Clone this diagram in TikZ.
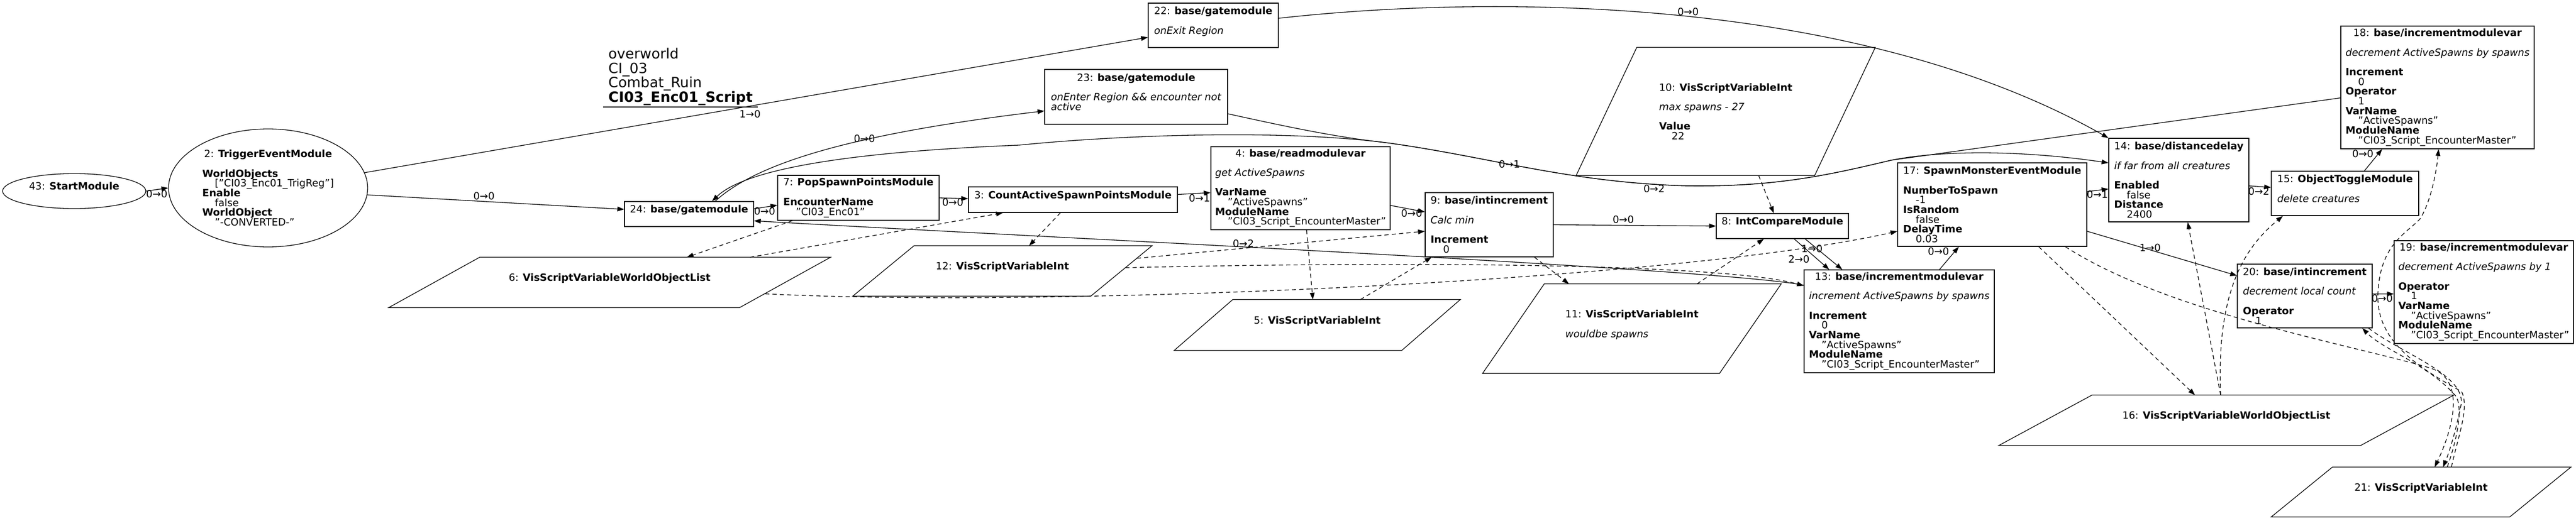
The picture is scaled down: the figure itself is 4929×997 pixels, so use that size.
\documentclass[tikz,border=0pt]{standalone}
\usepackage{fontspec}
\setmainfont{DejaVu Sans}
\usetikzlibrary{arrows.meta,calc,shapes.geometric}

\newcommand{\nodefont}{\fontsize{19.2bp}{18.7bp}\selectfont\lineskiplimit=-100bp\relax}
\newcommand{\headfont}{\fontsize{27bp}{27.5bp}\selectfont\lineskiplimit=-100bp\relax}
\newcommand{\mtitle}[2]{\hfil#1: \textbf{#2}}
\newcommand{\mprop}[2]{\textbf{#1}\\\hspace*{24bp}#2}
\newcommand{\mnote}[1]{\textit{#1}}
\newcommand{\mtext}[1]{\vbox{\let\\\cr\tabskip=0pt\halign{##\hfil\cr#1\crcr}}}
\newcommand{\varshape}[2]{\draw[line width=1.3bp] ($(#1.north west)+(#2,0)$) -- (#1.north east) -- ($(#1.south east)+(-#2,0)$) -- (#1.south west) -- cycle;}

\begin{document}
\begin{tikzpicture}[x=1bp, y=-1bp,
        every node/.style={font=\nodefont, inner sep=0pt},
        mod/.style={draw, rectangle, line width=1.3bp},
        startnode/.style={draw, ellipse, line width=1.3bp},
        headnode/.style={font=\headfont, inner xsep=10bp, inner ysep=3bp},
        lbl/.style={inner sep=0pt},
        link/.style={line width=1.3bp, -{Triangle[length=13bp,width=9bp]}},
        varlink/.style={link, dash pattern=on 8bp off 6bp}]
            \fill[white] (0,0) rectangle (4929,997);
            \useasboundingbox (0,0) rectangle (4929,997);

            \node[headnode, anchor=south west] (title) at (1154,205) {\mtext{overworld\\CI\_03\\Combat\_Ruin\\\textbf{CI03\_Enc01\_Script}}};
            \draw[line width=1.3bp] (title.south west) to (title.south east);

            \node[startnode, minimum width=274bp, minimum height=67bp] (n43) at (142,366) {\mtext{\mtitle{43}{StartModule}\\ {}}};
            \node[startnode, minimum width=381bp, minimum height=226bp] (n2) at (513,360) {\mtext{\mtitle{2}{TriggerEventModule}\\ \\ \mprop{WorldObjects}{["CI03\_Enc01\_TrigReg"]}\\ \mprop{Enable}{false}\\ \mprop{WorldObject}{"-CONVERTED-"}}};
            \node[mod, minimum width=247bp, minimum height=48bp] (n24) at (1318.5,410) {\mtext{\mtitle{24}{base/gatemodule}\\ {}}};
            \node[mod, minimum width=309bp, minimum height=86bp] (n7) at (1642.5,379) {\mtext{\mtitle{7}{PopSpawnPointsModule}\\ \\ \mprop{EncounterName}{"CI03\_Enc01"}}};
            \node[mod, minimum width=400bp, minimum height=49bp] (n3) at (2053,382.5) {\mtext{\mtitle{3}{CountActiveSpawnPointsModule}\\ {}}};
            \node[mod, minimum width=343bp, minimum height=159bp] (n4) at (2488.5,360.5) {\mtext{\mtitle{4}{base/readmodulevar}\\ \\ \mnote{get ActiveSpawns}\\ \\ \mprop{VarName}{"ActiveSpawns"}\\ \mprop{ModuleName}{"CI03\_Script\_EncounterMaster"}}};
            \node[mod, minimum width=245bp, minimum height=123bp] (n9) at (2849.5,430.5) {\mtext{\mtitle{9}{base/intincrement}\\ \\ \mnote{Calc min}\\ \\ \mprop{Increment}{0}}};
            \node[mod, minimum width=253bp, minimum height=48bp] (n8) at (3410.5,433) {\mtext{\mtitle{8}{IntCompareModule}\\ {}}};
            \node[mod, minimum width=364bp, minimum height=197bp] (n13) at (3634,615.5) {\mtext{\mtitle{13}{base/incrementmodulevar}\\ \\ \mnote{increment ActiveSpawns by spawns}\\ \\ \mprop{Increment}{0}\\ \mprop{VarName}{"ActiveSpawns"}\\ \mprop{ModuleName}{"CI03\_Script\_EncounterMaster"}}};
            \node[mod, minimum width=362bp, minimum height=160bp] (n17) at (3812,392) {\mtext{\mtitle{17}{SpawnMonsterEventModule}\\ \\ \mprop{NumberToSpawn}{-1}\\ \mprop{IsRandom}{false}\\ \mprop{DelayTime}{0.03}}};
            \node[mod, minimum width=268bp, minimum height=160bp] (n14) at (4169,345) {\mtext{\mtitle{14}{base/distancedelay}\\ \\ \mnote{if far from all creatures}\\ \\ \mprop{Enabled}{false}\\ \mprop{Distance}{2400}}};
            \node[mod, minimum width=282bp, minimum height=85bp] (n15) at (4487,370.5) {\mtext{\mtitle{15}{ObjectToggleModule}\\ \\ \mnote{delete creatures}\\ {}}};
            \node[mod, minimum width=370bp, minimum height=235bp] (n18) at (4664,167.5) {\mtext{\mtitle{18}{base/incrementmodulevar}\\ \\ \mnote{decrement ActiveSpawns by spawns}\\ \\ \mprop{Increment}{0}\\ \mprop{Operator}{1}\\ \mprop{VarName}{"ActiveSpawns"}\\ \mprop{ModuleName}{"CI03\_Script\_EncounterMaster"}}};
            \node[mod, minimum width=258bp, minimum height=122bp] (n20) at (4410,567) {\mtext{\mtitle{20}{base/intincrement}\\ \\ \mnote{decrement local count}\\ \\ \mprop{Operator}{1}}};
            \node[mod, minimum width=343bp, minimum height=197bp] (n19) at (4752.5,559.5) {\mtext{\mtitle{19}{base/incrementmodulevar}\\ \\ \mnote{decrement ActiveSpawns by 1}\\ \\ \mprop{Operator}{1}\\ \mprop{VarName}{"ActiveSpawns"}\\ \mprop{ModuleName}{"CI03\_Script\_EncounterMaster"}}};
            \node[mod, minimum width=249bp, minimum height=85bp] (n22) at (2321.5,48.5) {\mtext{\mtitle{22}{base/gatemodule}\\ \\ \mnote{onExit Region}\\ {}}};
            \node[mod, minimum width=350bp, minimum height=105bp] (n23) at (2174,185.5) {\mtext{\mtitle{23}{base/gatemodule}\\ \\ \mnote{onEnter Region \&\& encounter not}\\ \mnote{active}\\ {}}};

            \node[minimum width=845bp, minimum height=96bp] (v6) at (1166.5,541) {\mtext{\mtitle{6}{VisScriptVariableWorldObjectList}\\ {}}};
            \node[minimum width=572bp, minimum height=96bp] (v12) at (1918,519) {\mtext{\mtitle{12}{VisScriptVariableInt}\\ {}}};
            \node[minimum width=547bp, minimum height=97bp] (v5) at (2520.5,622.5) {\mtext{\mtitle{5}{VisScriptVariableInt}\\ {}}};
            \node[minimum width=571bp, minimum height=171bp] (v11) at (3122.5,629.5) {\mtext{\mtitle{11}{VisScriptVariableInt}\\ \\ \mnote{wouldbe spawns}\\ {}}};
            \node[minimum width=572bp, minimum height=245bp] (v10) at (3302,213.5) {\mtext{\mtitle{10}{VisScriptVariableInt}\\ \\ \mnote{max spawns - 27}\\ \\ \mprop{Value}{22}}};
            \node[minimum width=870bp, minimum height=96bp] (v16) at (4260,805) {\mtext{\mtitle{16}{VisScriptVariableWorldObjectList}\\ {}}};
            \node[minimum width=573bp, minimum height=95bp] (v21) at (4632.5,942.5) {\mtext{\mtitle{21}{VisScriptVariableInt}\\ {}}};
            \varshape{v6}{174}
            \varshape{v12}{117}
            \varshape{v5}{112}
            \varshape{v11}{118}
            \varshape{v10}{116}
            \varshape{v16}{178}
            \varshape{v21}{117}

            \draw[link] (n43.east) to (n2.west);
            \draw[link] (n2.356) to ($(n24.west)+(0,-9)$);
            \draw[link] (n2.9) to ($(n22.west)+(0,23)$);
            \draw[link] ($(n24.north)+(50,0)$) .. controls (1440,320) and (1600,260) .. ($(n23.west)+(0,27)$);
            \draw[link] ($(n24.east)+(0,-10)$) to ($(n7.west)+(0,14)$);
            \draw[link] (n7.east) to ($(n3.west)+(0,-2)$);
            \draw[link] ($(n3.east)+(0,-10)$) to ($(n4.west)+(0,8.5)$);
            \draw[link] ($(n4.east)+(0,33)$) to ($(n9.west)+(0,-24.5)$);
            \draw[link] (n9.east) to (n8.west);
            \draw[link] ($(n8.south)+(43.5,0)$) to ($(n13.north)+(-109,0)$);
            \draw[link] ($(n8.south)+(22.5,0)$) to ($(n13.north)+(-134,0)$);
            \draw[link] ($(n13.north)+(77,0)$) to ($(n17.south)+(-64,0)$);
            \draw[link] ($(n13.north west)+(0,30)$) .. controls (3300,515) and (2000,455) .. ($(n24.east)+(0,13)$);
            \draw[link] ($(n18.west)+(0,20)$) -- (3618,307) .. controls (3500,335) and (3400,358) .. (3230,356) .. controls (3000,350) and (2850,300) .. (2650,273) .. controls (2450,248) and (2150,258) .. (1950,278) .. controls (1650,290) and (1430,320) .. ($(n24.north)+(44,0)$);
            \draw[link] ($(n23.east)+(0,32.5)$) .. controls (2450,240) and (2550,262) .. (2650,273) .. controls (2850,300) and (3000,350) .. (3230,356) .. controls (3400,358) and (3500,335) .. (3618,307) .. controls (3700,290) and (3850,285) .. ($(n14.west)+(0,-33)$);
            \draw[link] ($(n22.east)+(0,-13.5)$) .. controls (2850,-10) and (3550,-10) .. (n14.north west);
            \draw[link] ($(n17.east)+(0,-25)$) to ($(n14.west)+(0,17)$);
            \draw[link] ($(n14.east)+(0,11)$) to ($(n15.west)+(0,-11.5)$);
            \draw[link] ($(n15.north)+(37,0)$) to ($(n18.south)+(-106,0)$);
            \draw[link] ($(n17.east)+(0,51)$) to ($(n20.west)+(0,-39)$);
            \draw[link] ($(n20.east)+(0,-4)$) to ($(n19.west)+(0,3.5)$);

            \draw[varlink] ($(n7.south west)+(29,0)$) to ($(v6.north)+(147.5,0)$);
            \draw[varlink] ($(v6.north)+(268.5,0)$) to ($(n3.south)+(-134,0)$);
            \draw[varlink] ($(n3.south)+(-24,0)$) to ($(v12.north)+(51,0)$);
            \draw[varlink] ($(v12.north east)+(-29,24)$) to ($(n9.west)+(0,12.5)$);
            \draw[varlink] ($(v12.north east)+(-51,42)$) .. controls (2700,500) and (3300,505) .. ($(n13.north west)+(0,31)$);
            \draw[varlink] ($(v6.north east)+(-125,70)$) .. controls (2000,590) and (3200,540) .. ($(n17.west)+(0,51)$);
            \draw[varlink] ($(n4.south)+(11.5,0)$) to ($(v5.north)+(-8.5,0)$);
            \draw[varlink] ($(v5.north)+(82.5,0)$) to ($(n9.south west)+(13,0)$);
            \draw[varlink] ($(n9.south)+(86.5,0)$) to ($(v11.north)+(-120.5,0)$);
            \draw[varlink] ($(v11.north)+(124.5,0)$) to ($(n8.south)+(-35.5,0)$);
            \draw[varlink] ($(v10.south)+(63,0)$) to ($(n8.north)+(-16.5,0)$);
            \draw[varlink] ($(n17.south)+(89,0)$) to ($(v16.north)+(-60,0)$);
            \draw[varlink] ($(n17.south)+(140,0)$) .. controls (4150,600) and (4500,660) .. (4650,705) .. controls (4730,730) and (4680,850) .. ($(v21.north)+(26,0)$);
            \draw[varlink] ($(v16.north)+(-11,0)$) to ($(n14.south)+(17,0)$);
            \draw[varlink] ($(v16.north)+(-11,0)$) .. controls (4240,550) and (4300,470) .. ($(n15.south)+(-119,0)$);
            \draw[varlink] ($(n20.south)+(122,0)$) .. controls (4600,680) and (4725,720) .. (4708,780) .. controls (4698,830) and (4685,870) .. ($(v21.north)+(42,0)$);
            \draw[varlink] ($(v21.north)+(50,0)$) .. controls (4695,860) and (4715,790) .. (4700,760) .. controls (4650,700) and (4560,670) .. ($(n20.south)+(110,0)$);
            \draw[varlink] ($(v21.north)+(58,0)$) .. controls (4705,830) and (4725,780) .. (4710,750) .. controls (4620,700) and (4545,650) .. (4550,560) .. controls (4555,470) and (4600,450) .. (4630,420) .. controls (4650,390) and (4662,330) .. ($(n18.south)+(2,0)$);

            \node[lbl] (l43) at (300,372) {0→0};
            \node[lbl] (l2a) at (926,376) {0→0};
            \node[lbl] (l2b) at (1435,219) {1→0};
            \node[lbl] (l24a) at (1654,266) {0→0};
            \node[lbl] (l24b) at (1463,405) {0→0};
            \node[lbl] (l7) at (1823,388) {0→0};
            \node[lbl] (l3) at (2295,380) {0→1};
            \node[lbl] (l4) at (2701,409) {0→0};
            \node[lbl] (l9) at (3106,421) {0→0};
            \node[lbl] (l8a) at (3467,477) {1→0};
            \node[lbl] (l8b) at (3442,497) {2→0};
            \node[lbl] (l13a) at (3709,482) {0→0};
            \node[lbl] (l13b) at (2379,467) {0→2};
            \node[lbl] (l18a) at (2888,315) {0→1};
            \node[lbl] (l23) at (3165,362) {0→2};
            \node[lbl] (l22) at (3230,23) {0→0};
            \node[lbl] (l17a) at (4013,373) {0→1};
            \node[lbl] (l14) at (4322,367) {0→2};
            \node[lbl] (l15) at (4521,295) {0→0};
            \node[lbl] (l17b) at (4114,475) {1→0};
            \node[lbl] (l20) at (4558,572) {0→0};
        \end{tikzpicture}
\end{document}
